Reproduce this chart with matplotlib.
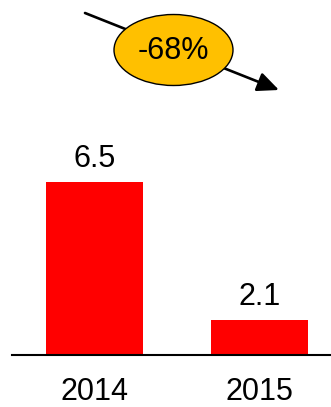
import matplotlib
matplotlib.use("Agg")
import matplotlib.pyplot as plt
from matplotlib.patches import Ellipse

years = ["2014", "2015"]
values = [6.5, 2.1]
change_label = "-68%"

W, H = 331, 407
plt.rcParams['font.family'] = ['Liberation Sans', 'DejaVu Sans']

fig = plt.figure(figsize=(W / 100, H / 100), dpi=100)


def fx(px):
    return px / W


def fy(py):
    return 1 - py / H


ax = fig.add_axes([fx(12), fy(355), fx(331) - fx(12), fy(0) - fy(355)])
xs = list(range(len(years)))
ax.bar(xs, values, width=0.588, color="#ff0000")
ax.set_xlim(-0.5, 1.433)
ax.set_ylim(1.0, 12.29)
for s in ["top", "left", "right"]:
    ax.spines[s].set_visible(False)
ax.spines["bottom"].set_linewidth(1.5)
ax.set_xticks([])
ax.set_yticks([])

for x, v, lab in zip(xs, values, years):
    ax.annotate(f"{v}", xy=(x, v), xytext=(0, 10.8), textcoords="offset points",
                ha="center", va="baseline", fontsize=22)
    ax.annotate(lab, xy=(x, 0), xycoords=("data", "axes fraction"),
                xytext=(0, -32.4), textcoords="offset points",
                ha="center", va="baseline", fontsize=22)

# trend arrow with badge
fig.patches.append(matplotlib.patches.FancyArrowPatch(
    (fx(85), fy(13)), (fx(279), fy(90)), transform=fig.transFigure,
    arrowstyle="-|>,head_length=1.0,head_width=0.45", mutation_scale=13,
    color="black", linewidth=1.9, shrinkA=0, shrinkB=0))
fig.patches.append(Ellipse((fx(173.5), fy(50)), 119 / W, 71 / H,
                           transform=fig.transFigure, facecolor="#ffc000",
                           edgecolor="black", linewidth=1.0, zorder=3))
fig.text(fx(173.5), fy(51), change_label, ha="center", va="center",
         fontsize=22, zorder=4)

fig.savefig("out.png", dpi=100)
